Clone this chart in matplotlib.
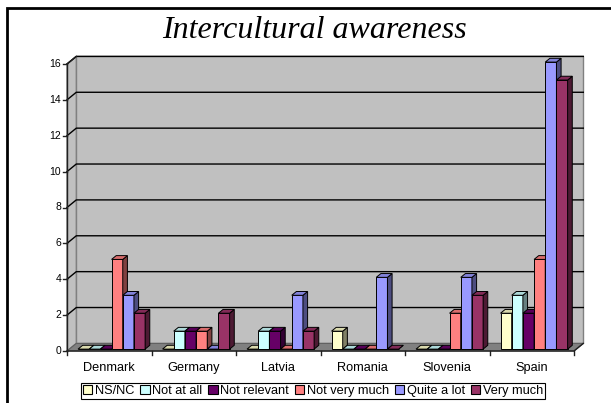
import matplotlib
matplotlib.use("Agg")
import matplotlib.pyplot as plt
import numpy as np
from matplotlib.patches import Polygon, Rectangle
from matplotlib.colors import to_rgb

# dati
categories = ['Denmark', 'Germany', 'Latvia', 'Romania', 'Slovenia', 'Spain']
series = ['NS/NC', 'Not at all', 'Not relevant', 'Not very much', 'Quite a lot', 'Very much']
ns_nc = [0, 0, 0, 1, 0, 2]
not_at_all = [0, 1, 1, 0, 0, 3]
not_relevant = [0, 1, 1, 0, 0, 2]
not_very_much = [5, 1, 0, 0, 2, 5]
quite_a_lot = [3, 0, 3, 4, 4, 16]
very_much = [2, 2, 1, 0, 3, 15]
values = [ns_nc, not_at_all, not_relevant, not_very_much, quite_a_lot, very_much]
colors = ['#FFFFCC', '#CCFFFF', '#660066', '#FF8080', '#9999FF', '#993366']
yticks = np.arange(0, 17, 2)

W, H = 611, 403
fig = plt.figure(figsize=(W / 100, H / 100), dpi=100)
fig.patch.set_facecolor('white')

# area del grafico (asse frontale)
x0, x1, y0, y1 = 67, 574, 351, 64
ax = fig.add_axes([x0 / W, (H - y0) / H, (x1 - x0) / W, (y0 - y1) / H])
ax.set_xlim(0, len(categories))
ax.set_ylim(0, 16)
ax.axis('off')

# profondita' 3D in unita' dati
DX = 9.3 / ((x1 - x0) / len(categories))
DY = 7.6 / ((y0 - y1) / 16)
ymax = 16


def shade(c, f):
    r, g, b = to_rgb(c)
    return (r * f, g * f, b * f)


# parete di fondo, parete laterale, pavimento
ax.add_patch(Polygon([(DX, DY), (6 + DX, DY), (6 + DX, ymax + DY), (DX, ymax + DY)],
                     closed=True, fc='#C0C0C0', ec='#808080', lw=1, clip_on=False, zorder=1))
ax.add_patch(Polygon([(0, 0), (DX, DY), (DX, ymax + DY), (0, ymax)],
                     closed=True, fc='#C0C0C0', ec='#808080', lw=1, clip_on=False, zorder=1))
ax.add_patch(Polygon([(0, 0), (6, 0), (6 + DX, DY), (DX, DY)],
                     closed=True, fc='#808080', ec='#606060', lw=0.8, clip_on=False, zorder=1))

# griglia
for t in yticks[1:]:
    ax.plot([0, DX, 6 + DX], [t, t + DY, t + DY], color='black', lw=1, clip_on=False, zorder=2)

# assi
ax.plot([0, 0], [0, ymax], color='#202020', lw=1, clip_on=False, zorder=3)
ax.plot([0, 6, 6 + DX], [0, 0, DY], color='#202020', lw=1, clip_on=False, zorder=3)
ax.plot([0, DX], [ymax, ymax + DY], color='#202020', lw=1, clip_on=False, zorder=3)
for t in yticks:
    ax.plot([-0.05, 0], [t, t], color='#202020', lw=1, clip_on=False, zorder=3)
    ax.text(-0.07, t, str(t), ha='right', va='center', fontsize=7.5, family='Liberation Sans')
for i in range(len(categories) + 1):
    ax.plot([i, i], [0, -0.25], color='#202020', lw=1, clip_on=False, zorder=3)
for i, c in enumerate(categories):
    ax.text(i + 0.5, -0.95, c, ha='center', va='center', fontsize=9.2, family='Liberation Sans')

# barre 3D
n = len(series)
gap = 0.103
bw = (1 - 2 * gap) / n
fx, fy = 0.25 * DX, 0.25 * DY
bdx, bdy = 0.5 * DX, 0.5 * DY
z = 4
for ci in range(len(categories)):
    for si in range(n):
        h = values[si][ci]
        xl = ci + gap + si * bw + fx
        xr = xl + bw
        yb = fy
        yt = fy + h
        col = colors[si]
        ax.bar(xl, h, width=bw, bottom=yb, align='edge', color=col,
               edgecolor='black', linewidth=0.7, clip_on=False, zorder=z)
        ax.add_patch(Polygon([(xr, yb), (xr + bdx, yb + bdy), (xr + bdx, yt + bdy), (xr, yt)],
                             closed=True, fc=shade(col, 0.5), ec='black', lw=0.7,
                             clip_on=False, zorder=z))
        ax.add_patch(Polygon([(xl, yt), (xr, yt), (xr + bdx, yt + bdy), (xl + bdx, yt + bdy)],
                             closed=True, fc=shade(col, 0.85), ec='black', lw=0.7,
                             clip_on=False, zorder=z))
        z += 1

# legenda
handles = [Rectangle((0, 0), 1, 1, fc=c, ec='black', lw=0.8) for c in colors]
leg = fig.legend(handles, series, loc='center', bbox_to_anchor=(313 / W, 1 - 391 / H), ncol=6,
                 frameon=True, fancybox=False, edgecolor='black', framealpha=1,
                 prop={'family': 'Liberation Sans', 'size': 9.2},
                 handlelength=0.75, handleheight=0.75, handletextpad=0.2,
                 columnspacing=0.45, borderpad=0.15, borderaxespad=0)
leg.get_frame().set_linewidth(0.8)

# titolo
fig.text(315 / W, 1 - 30 / H, 'Intercultural awareness', ha='center', va='center',
         fontsize=23, style='italic', family='Liberation Serif')

# cornice esterna
fig.patches.append(Rectangle((7 / W, -0.5), 2, 1 - 7.5 / H + 0.5, transform=fig.transFigure,
                             fill=False, ec='black', lw=2))

plt.savefig('out.png', dpi=100)
